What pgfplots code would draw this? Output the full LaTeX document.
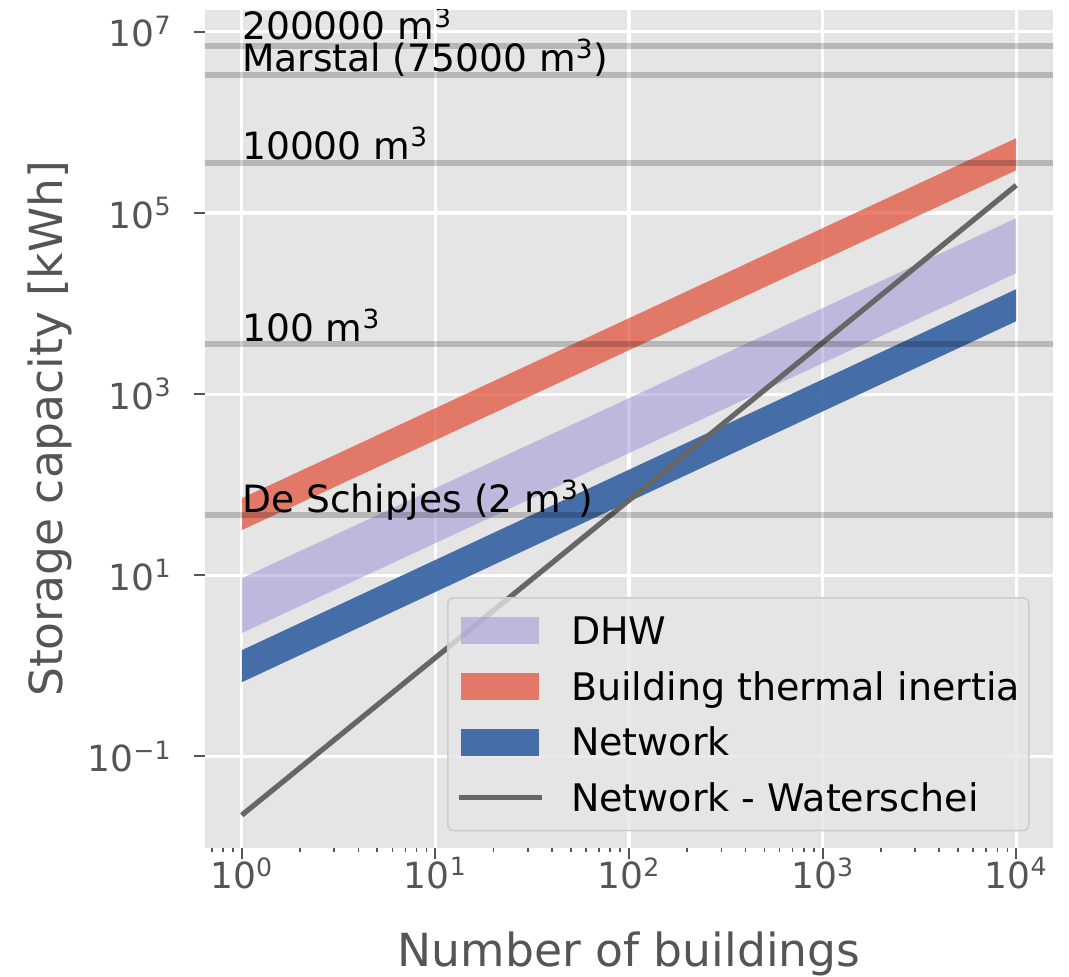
\documentclass[border=0pt]{standalone}
\usepackage{fontspec}
\setmainfont{DejaVu Sans}
\usepackage{pgfplots}
\pgfplotsset{compat=1.18}
\definecolor{bg}{HTML}{E5E5E5}
\definecolor{tickgray}{HTML}{555555}
\definecolor{dhw}{HTML}{988ED5}
\definecolor{bti}{HTML}{E24A33}
\definecolor{net}{HTML}{3460A2}
\definecolor{wat}{HTML}{666666}
\definecolor{legframe}{HTML}{CCCCCC}
\pgfplotsset{
  patchlegend/.style={legend image code/.code={\fill[##1, sharp corners] (0pt,-6.75pt) rectangle (39pt,6.75pt);}},
  linelegend/.style={legend image code/.code={\draw[##1, sharp corners] (-1pt,0pt) -- (40.5pt,0pt);}},
}
\begin{document}
\begin{tikzpicture}
\useasboundingbox (-102.5pt,-64.5pt) rectangle (432pt,424pt);
\begin{axis}[
  at={(0pt,0pt)}, anchor=south west,
  scale only axis, width=424pt, height=419pt,
  xmode=log, ymode=log,
  xmin=0.6457, xmax=15488,
  ymin=0.00977, ymax=1.738e7,
  axis background/.style={fill=bg},
  axis line style={draw=none},
  grid=major, major grid style={white, line width=1.6pt},
  xtick={1,10,100,1000,10000},
  xticklabels={10\textsuperscript{0},10\textsuperscript{1},10\textsuperscript{2},10\textsuperscript{3},10\textsuperscript{4}},
  minor xtick={0.7,0.8,0.9,2,3,4,5,6,7,8,9,20,30,40,50,60,70,80,90,200,300,400,500,600,700,800,900,2000,3000,4000,5000,6000,7000,8000,9000},
  ytick={0.1,10,1000,100000,10000000},
  yticklabels={10\textsuperscript{−1},10\textsuperscript{1},10\textsuperscript{3},10\textsuperscript{5},10\textsuperscript{7}},
  yminorticks=false,
  tick align=outside, tick pos=left,
  major tick length=5.5pt, minor tick length=2pt,
  tick style={color=tickgray, line width=1pt},
  minor tick style={line width=0.8pt},
  tick label style={font=\fontsize{18}{21.6}\selectfont, text=tickgray, inner sep=0pt},
  yticklabel style={anchor=east, xshift=-11pt},
  xticklabel style={anchor=north, yshift=1pt},
  xlabel={Number of buildings}, ylabel={Storage capacity [kWh]},
  label style={font=\fontsize{22.8}{27}\selectfont, text=tickgray, inner sep=0pt},
  xlabel style={at={(axis description cs:0.5,-0.142)}, anchor=base},
  ylabel style={at={(axis description cs:-0.1686,0.5)}, anchor=base},
  legend style={at={(0.2854,0.2995)}, anchor=north west,
    fill=bg, fill opacity=0.8, draw opacity=1, text opacity=1,
    draw=legframe, line width=0.8pt, rounded corners=3pt,
    inner xsep=4.5pt, inner ysep=2.6pt,
    font=\fontsize{19}{22}\selectfont,
    nodes={inner sep=0pt, text height=20.8pt, text depth=7pt},
    /tikz/every odd column/.style={column sep=13pt},
    cells={anchor=west}},
]
% DHW band
\addplot[fill=dhw, fill opacity=0.5, draw=none, patchlegend]
  coordinates {(1,2.30) (10000,21600) (10000,87500) (1,9.3)} -- cycle;
\addlegendentry{DHW}
% Building thermal inertia band
\addplot[fill=bti, fill opacity=0.7, draw=none, patchlegend]
  coordinates {(1,31.5) (10000,296000) (10000,668000) (1,71)} -- cycle;
\addlegendentry{Building thermal inertia}
% Network band
\addplot[fill=net, fill opacity=0.9, draw=none, patchlegend]
  coordinates {(1,0.66) (10000,6380) (10000,14400) (1,1.49)} -- cycle;
\addlegendentry{Network}
% Network - Waterschei
\addplot[wat, line width=2.6pt, linelegend]
  coordinates {(1,0.0225) (10000,202000)};
\addlegendentry{Network - Waterschei}
% reference volumes
\addplot[forget plot, black, draw opacity=0.2, line width=2.8pt] coordinates {(0.3,6.92e6) (30000,6.92e6)};
\addplot[forget plot, black, draw opacity=0.2, line width=2.8pt] coordinates {(0.3,3.31e6) (30000,3.31e6)};
\addplot[forget plot, black, draw opacity=0.2, line width=2.8pt] coordinates {(0.3,3.54e5) (30000,3.54e5)};
\addplot[forget plot, black, draw opacity=0.2, line width=2.8pt] coordinates {(0.3,3550) (30000,3550)};
\addplot[forget plot, black, draw opacity=0.2, line width=2.8pt] coordinates {(0.3,46) (30000,46)};
\node[anchor=base west, inner sep=0pt, yshift=3.3pt, font=\fontsize{18.8}{22}\selectfont] at (axis cs:1,6.92e6) {200000 m\textsuperscript{3}};
\node[anchor=base west, inner sep=0pt, yshift=2pt, font=\fontsize{18.8}{22}\selectfont] at (axis cs:1,3.31e6) {Marstal (75000 m\textsuperscript{3})};
\node[anchor=base west, inner sep=0pt, yshift=2pt, font=\fontsize{18.8}{22}\selectfont] at (axis cs:1,3.54e5) {10000 m\textsuperscript{3}};
\node[anchor=base west, inner sep=0pt, yshift=1.5pt, font=\fontsize{18.8}{22}\selectfont] at (axis cs:1,3550) {100 m\textsuperscript{3}};
\node[anchor=base west, inner sep=0pt, yshift=1.5pt, font=\fontsize{18.8}{22}\selectfont] at (axis cs:1,46) {De Schipjes (2 m\textsuperscript{3})};
\end{axis}
\end{tikzpicture}
\end{document}
